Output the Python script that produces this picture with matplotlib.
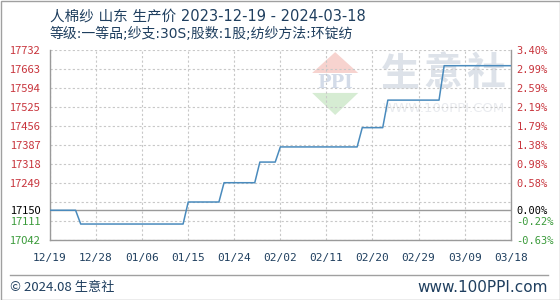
import matplotlib
matplotlib.use('Agg')
import matplotlib.pyplot as plt
import matplotlib.dates as mdates
from matplotlib.patches import Polygon, Rectangle
import pandas as pd

plt.rcParams['font.family'] = ['Noto Sans CJK SC', 'DejaVu Sans']

# data
dates = ['2023-12-19', '2023-12-24', '2023-12-25', '2024-01-14', '2024-01-15',
         '2024-01-21', '2024-01-22', '2024-01-28', '2024-01-29', '2024-02-01',
         '2024-02-02', '2024-02-17', '2024-02-18', '2024-02-22', '2024-02-23',
         '2024-03-04', '2024-03-05', '2024-03-18']
prices = [17150, 17150, 17100, 17100, 17180,
          17180, 17250, 17250, 17325, 17325,
          17380, 17380, 17450, 17450, 17550,
          17550, 17675, 17675]
base_price = 17150
y_ticks = [17042, 17111, 17150, 17249, 17318, 17387, 17456, 17525, 17594, 17663, 17732]
pct_labels = ['-0.63%', '-0.22%', '0.00%', '0.58%', '0.98%', '1.38%', '1.79%',
              '2.19%', '2.59%', '2.99%', '3.40%']
y_grid = [17042, 17111, 17180, 17249, 17318, 17387, 17456, 17525, 17594, 17663, 17732]
x_ticks = ['2023-12-19', '2023-12-28', '2024-01-06', '2024-01-15', '2024-01-24', '2024-02-02',
           '2024-02-11', '2024-02-20', '2024-02-29', '2024-03-09', '2024-03-18']
title1 = '人棉纱 山东 生产价 2023-12-19 - 2024-03-18'
title2 = '等级:一等品;纱支:30S;股数:1股;纺纱方法:环锭纺'

RED = '#c8343c'
GREEN = '#3a9a3a'
NAVY = '#1f3f5f'

x = pd.to_datetime(dates)
xt = pd.to_datetime(x_ticks)

fig = plt.figure(figsize=(5.6, 3.0), dpi=100)
fig.patch.set_facecolor('white')
ax = fig.add_axes([50 / 560, 0.2, 460.7 / 560, 190 / 300])

ymin, ymax = y_grid[0], y_grid[-1]
ax.set_ylim(ymin, ymax)
ax.set_xlim(xt[0], xt[-1])

# grid
for g in y_grid:
    ax.axhline(g, color='#c8c8c8', lw=0.8, ls=(0, (2, 2)), zorder=1)
for t in xt:
    ax.axvline(t, color='#c8c8c8', lw=0.8, ls=(0, (2, 2)), zorder=1)
ax.axhline(base_price, color='#9a9a9a', lw=1.0, zorder=2)

# watermark (logo + 生意社)
wm = '#dde2e9'
for cx, ch in zip([0.76, 0.853, 0.945], '生意社'):
    ax.text(cx, 0.875, ch, transform=ax.transAxes, fontsize=28, color=wm,
            ha='center', va='center', fontweight='bold', zorder=0)
ax.text(0.855, 0.69, 'WWW.100PPI.COM', transform=ax.transAxes, fontsize=9.5,
        color='#e9ebef', ha='center', va='center', family=['DejaVu Sans'], zorder=0)
ax.add_patch(Polygon([[0.569, 0.879], [0.619, 0.989], [0.669, 0.879]], closed=True,
                     transform=ax.transAxes, color='#f7d3cf', zorder=0, lw=0))
ax.add_patch(Polygon([[0.569, 0.774], [0.619, 0.658], [0.669, 0.774]], closed=True,
                     transform=ax.transAxes, color='#d6ecd3', zorder=0, lw=0))
ax.text(0.619, 0.826, 'PPI', transform=ax.transAxes, fontsize=13, color='#d3dbe8',
        ha='center', va='center', fontweight='bold', family=['DejaVu Serif'], zorder=0)

ax.plot(x, prices, color='#4a8bbd', lw=1.1, zorder=3)

for s in ['left', 'right', 'bottom']:
    ax.spines[s].set_color('#9a9a9a')
    ax.spines[s].set_linewidth(1.0)
ax.spines['top'].set_visible(False)

# left tick labels
ax.set_yticks(y_ticks)
ax.set_yticklabels([str(v) for v in y_ticks])
ax.tick_params(axis='y', length=0, pad=7, labelsize=8)
for lab, v in zip(ax.get_yticklabels(), y_ticks):
    lab.set_color(RED if v > base_price else GREEN if v < base_price else '#000000')

# right percent labels
ax2 = ax.twinx()
ax2.set_ylim(ymin, ymax)
ax2.set_yticks(y_ticks)
ax2.set_yticklabels(pct_labels, family=['DejaVu Sans Mono'])
ax2.tick_params(axis='y', length=0, pad=4, labelsize=7.5)
for lab, v in zip(ax2.get_yticklabels(), y_ticks):
    lab.set_color(RED if v > base_price else GREEN if v < base_price else '#000000')
for s in ax2.spines.values():
    s.set_visible(False)

ax.set_xticks(xt)
ax.xaxis.set_major_formatter(mdates.DateFormatter('%m/%d'))
ax.tick_params(axis='x', length=0, pad=9, labelsize=8, labelcolor=NAVY)
for lab in ax.get_xticklabels():
    lab.set_family(['DejaVu Sans Mono'])

# titles
fig.text(50 / 560, 1 - 16 / 300, title1, fontsize=10.5, color=NAVY, va='center', ha='left',
         family=['DejaVu Sans', 'Noto Sans CJK SC'])
fig.text(50 / 560, 1 - 34 / 300, title2, fontsize=10, color=NAVY, va='center', ha='left',
         family=['DejaVu Sans', 'Noto Sans CJK SC'])

# footer
fig.add_artist(plt.Line2D([10 / 560, 548 / 560], [1 - 275 / 300, 1 - 275 / 300],
                          color='#a0a0a0', lw=1.0))
fig.text(10 / 560, 1 - 288 / 300, '© 2024.08 生意社', fontsize=9.5, color=NAVY,
         va='center', ha='left')
fig.text(548 / 560, 1 - 288 / 300, 'www.100PPI.com', fontsize=11, color=NAVY,
         va='center', ha='right', family=['DejaVu Sans'])

# outer border
fig.add_artist(Rectangle((0.5 / 560, 0.5 / 300), 559 / 560, 299 / 300, fill=False,
                         edgecolor='#a0a0a0', lw=1.0, transform=fig.transFigure))

fig.savefig('out.png', dpi=100)
